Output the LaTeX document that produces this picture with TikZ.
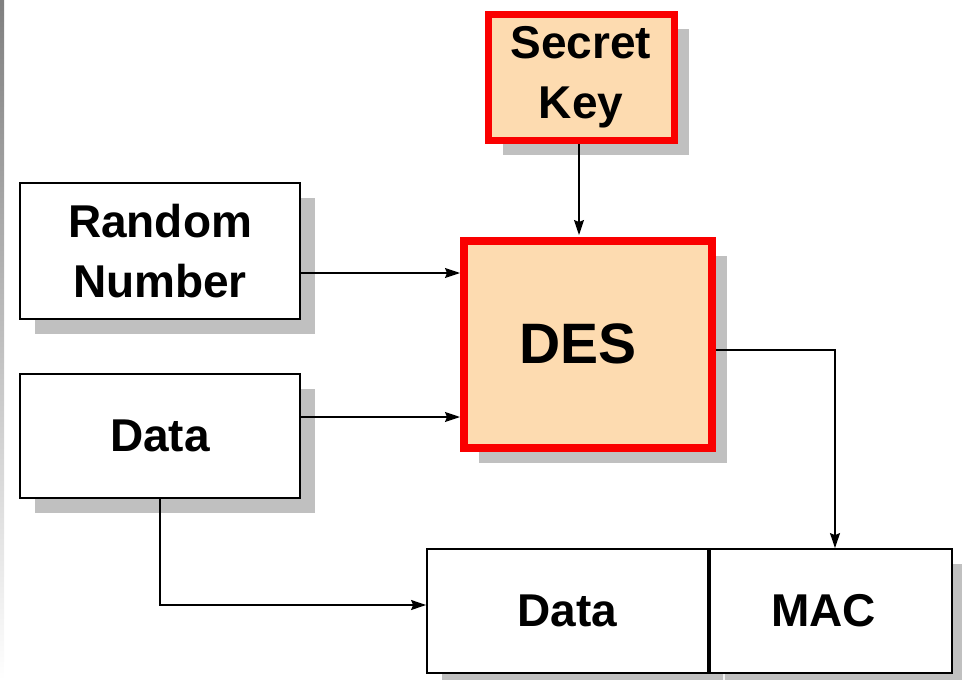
\documentclass[tikz,border=0pt]{standalone}
\usepackage{fontspec}
\setmainfont{Liberation Sans}
\usetikzlibrary{arrows.meta,shadows}
\definecolor{peach}{RGB}{253,219,176}
\definecolor{boxred}{RGB}{250,0,0}
\definecolor{shade}{RGB}{192,192,192}
\tikzset{
  plainbox/.style={draw=black, line width=1.8pt, fill=white, align=center,
    font=\fontsize{46}{60}\selectfont\bfseries,
    drop shadow={shadow xshift=15pt, shadow yshift=-15pt, fill=shade, opacity=1}},
  keybox/.style={plainbox, draw=boxred, fill=peach},
  arr/.style={draw=black, line width=1.4pt, -{Stealth[length=15pt,width=10pt,inset=2pt]}}
}
\begin{document}
\begin{tikzpicture}[x=1pt, y=-1pt]
  \useasboundingbox (0,0) rectangle (962,680);
  % gray strip along the left edge
  \fill[shade] (0,0) rectangle (4,680);

  % blocks
  \node[keybox, line width=7pt, minimum width=186pt, minimum height=126pt] (sk) at (581,77) {Secret\\Key};
  \node[keybox, line width=8pt, minimum width=248pt, minimum height=207pt,
        font=\fontsize{57}{68}\selectfont\bfseries] (des) at (588,344) {DES\hspace*{20pt}};
  \node[plainbox, minimum width=280pt, minimum height=136pt] (rn) at (160,251) {Random\\Number};
  \node[plainbox, minimum width=280pt, minimum height=124pt] (data) at (160,436) {Data};

  % output record: data field followed by the MAC field
  \fill[shade] (442,564) rectangle (965,690);
  \node[plainbox, drop shadow={opacity=0}, minimum width=281pt, minimum height=124pt] (bdata) at (567.5,611) {Data};
  \node[plainbox, drop shadow={opacity=0}, minimum width=242pt, minimum height=124pt, anchor=west] (mac) at (bdata.east) {MAC\hspace*{14pt}};

  % connectors
  \coordinate (macin) at (835,350);
  \draw[arr] (579,144) -- (579,235);
  \draw[arr] (rn.east |- 0,273) -- (des.west |- 0,273);
  \draw[arr] (data.east |- 0,417) -- (des.west |- 0,417);
  \draw[arr] (des.east |- macin) -| (macin |- mac.north);
  \draw[arr] (data.south) |- (bdata.west |- 0,605);
\end{tikzpicture}
\end{document}
